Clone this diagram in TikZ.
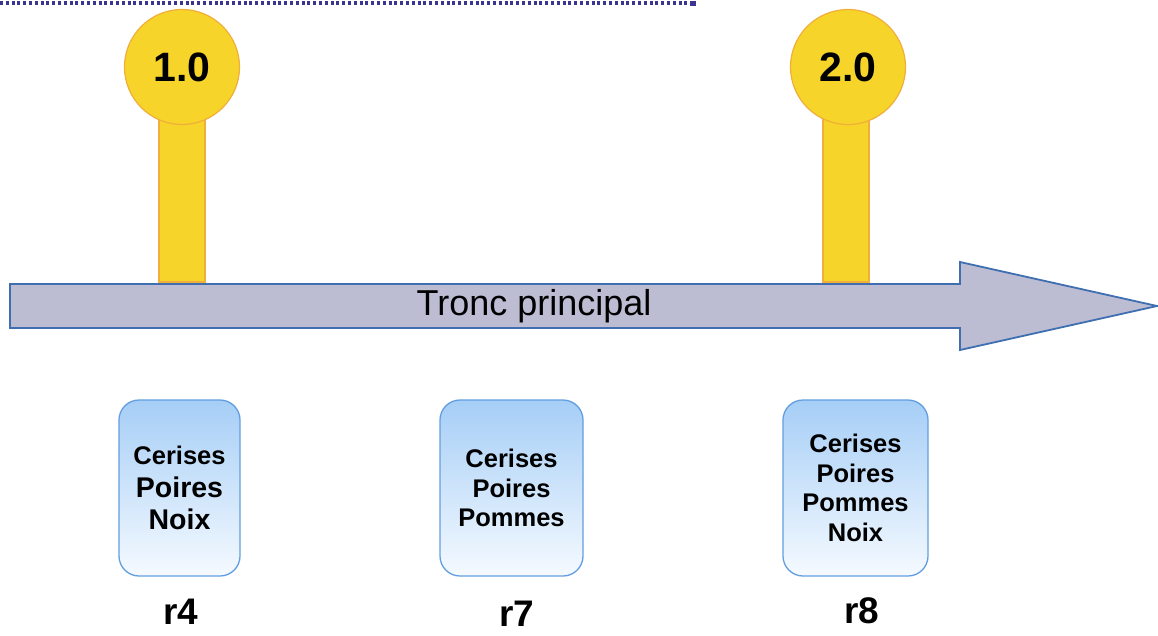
\documentclass[tikz,border=0pt]{standalone}
\usepackage{fontspec}
\setmainfont{Liberation Sans}
\definecolor{trunkfill}{HTML}{BCBDD3}
\definecolor{trunkline}{HTML}{3F6FB0}
\definecolor{pinfill}{HTML}{F6D42A}
\definecolor{pinline}{HTML}{F0AE3A}
\definecolor{revtop}{HTML}{A6CEF6}
\definecolor{revbot}{HTML}{F5FAFF}
\definecolor{revline}{HTML}{639EE0}
\definecolor{rulecol}{HTML}{3B3490}
\tikzset{
  pinstick/.style={fill=pinfill, draw=pinline, line width=1.2pt},
  pinhead/.style={circle, fill=pinfill, draw=pinline, line width=1.2pt,
    minimum size=115pt, inner sep=0pt,
    font=\bfseries\fontsize{41}{41}\selectfont},
  revbox/.style={rounded corners=20pt, draw=revline, line width=1.3pt,
    top color=revtop, bottom color=revbot, minimum height=176pt,
    inner sep=0pt, align=center,
    font=\bfseries\fontsize{25.5}{29.5}\selectfont},
  revlabel/.style={font=\bfseries\fontsize{37}{37}\selectfont, inner sep=0pt},
}
\begin{document}
\begin{tikzpicture}[x=1pt, y=-1pt]
  \useasboundingbox (0,0) rectangle (1158,635);

  % dotted rule across the top
  \draw[rulecol, line width=4pt, dash pattern=on 3pt off 2.8pt] (0,3) -- (690,3);
  \fill[rulecol] (690,0.5) rectangle (696,6);

  % release pins, sticks under the heads
  \draw[pinstick] (159,118) rectangle (205,282);
  \node[pinhead] (v1) at (182,67) {1.0};
  \draw[pinstick] (823,118) rectangle (869,282);
  \node[pinhead] (v2) at (848,67) {2.0};

  % trunk arrow
  \draw[fill=trunkfill, draw=trunkline, line width=1.8pt, line join=miter]
    (10,284) -- (960,284) -- (960,262) -- (1157,306) -- (960,350)
    -- (960,328) -- (10,328) -- cycle;
  \node[font=\fontsize{36}{36}\selectfont, inner sep=0pt] (trunk) at (534,306) {Tronc principal};

  % revision contents
  \node[revbox, minimum width=121pt, font=\bfseries\fontsize{28.5}{32.5}\selectfont] (b4) at (179.5,488)
    {{\fontsize{25.5}{32.5}\selectfont Cerises}\\Poires\\Noix};
  \node[revbox, minimum width=143pt] (b7) at (511.5,488) {Cerises\\Poires\\Pommes};
  \node[revbox, minimum width=145pt] (b8) at (855.5,488) {Cerises\\Poires\\Pommes\\Noix};

  % revision names
  \node[revlabel] (r4) at (181,612) {r4};
  \node[revlabel] (r7) at (517,614) {r7};
  \node[revlabel] (r8) at (862,611) {r8};
\end{tikzpicture}
\end{document}
